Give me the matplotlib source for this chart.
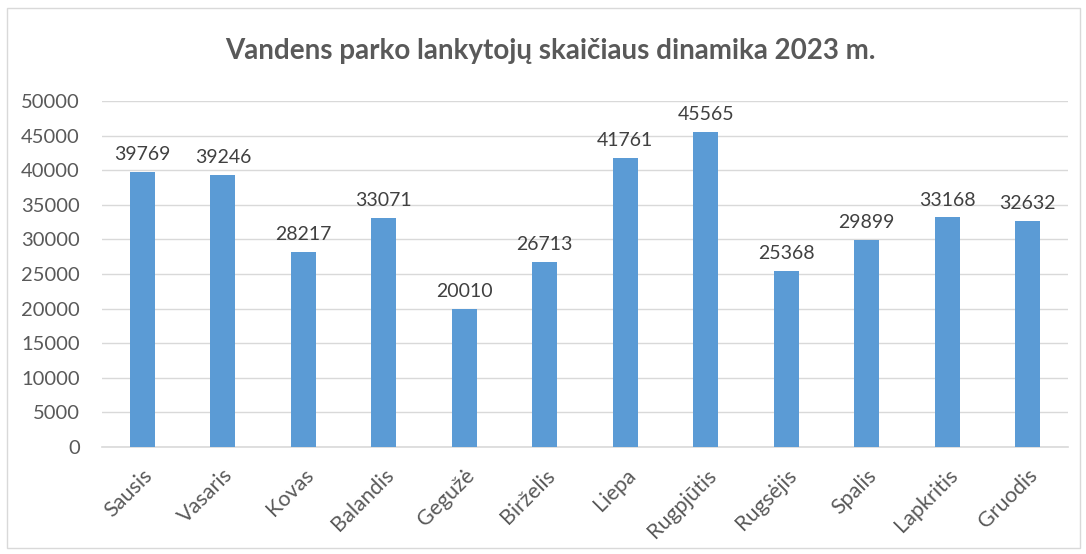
import matplotlib
matplotlib.use('Agg')
import matplotlib.pyplot as plt
from matplotlib.patches import Rectangle

plt.rcParams['font.family'] = ['Lato', 'DejaVu Sans']

# duomenys
menesiai = ['Sausis', 'Vasaris', 'Kovas', 'Balandis', 'Gegužė', 'Birželis',
            'Liepa', 'Rugpjūtis', 'Rugsėjis', 'Spalis', 'Lapkritis', 'Gruodis']
lankytojai = [39769, 39246, 28217, 33071, 20010, 26713,
              41761, 45565, 25368, 29899, 33168, 32632]
y_ticks = [0, 5000, 10000, 15000, 20000, 25000, 30000, 35000, 40000, 45000, 50000]

fig = plt.figure(figsize=(10.86, 5.54), dpi=100)
ax = fig.add_axes([0.094, 0.193, 0.8894, 0.6247])

x = range(len(menesiai))
bars = ax.bar(x, lankytojai, width=0.31, color='#5B9BD5', zorder=3)

for xi, v in zip(x, lankytojai):
    ax.text(xi, v + 1300, str(v), ha='center', va='bottom',
            fontsize=14, color='#404040')

ax.set_xlim(-0.5, len(menesiai) - 0.5)
ax.set_ylim(0, 50000)
ax.set_yticks(y_ticks)
ax.set_yticklabels([str(t) for t in y_ticks], fontsize=14.5, color='#595959')
ax.set_xticks(list(x))
ax.set_xticklabels(menesiai, rotation=45, ha='right', rotation_mode='anchor',
                   fontsize=15.5, color='#595959')

ax.grid(axis='y', color='#D9D9D9', linewidth=1, zorder=0)
for s in ['top', 'right', 'left']:
    ax.spines[s].set_visible(False)
ax.spines['bottom'].set_color('#D9D9D9')
ax.spines['bottom'].set_linewidth(1.2)
ax.tick_params(axis='y', length=0, pad=16)
ax.tick_params(axis='x', length=0, pad=13)

fig.text(0.507, 0.908, 'Vandens parko lankytojų skaičiaus dinamika 2023 m.',
         ha='center', va='center', fontsize=20, fontweight='bold', color='#595959')

# rėmelis aplink diagramą
fig.patches.append(Rectangle((0.0065, 0.01), 0.988, 0.975, transform=fig.transFigure,
                             fill=False, edgecolor='#D9D9D9', linewidth=1))

fig.savefig('out.png', dpi=100)
